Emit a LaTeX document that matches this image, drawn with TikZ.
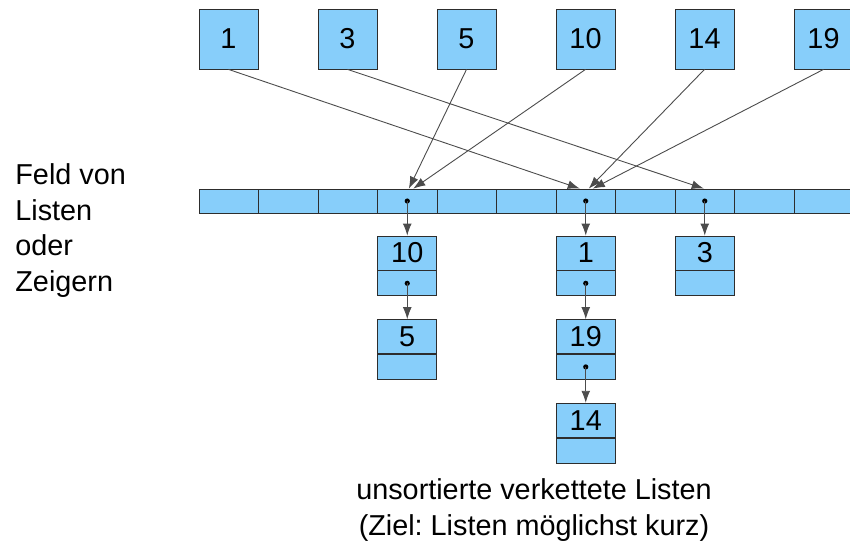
\documentclass[tikz,border=0pt]{standalone}
\usepackage{fontspec}
\setmainfont{Liberation Sans}
\usetikzlibrary{positioning,arrows.meta}

\definecolor{feldblau}{RGB}{135,206,250}
\definecolor{rand}{RGB}{45,45,45}

\tikzset{
  schrift/.style={font=\fontsize{14.4}{17.9}\selectfont},
  wert/.style={draw=rand, fill=feldblau, minimum width=29.5pt, minimum height=30pt, inner sep=0pt, schrift},
  zelle/.style={draw=rand, fill=feldblau, minimum width=29.75pt, minimum height=12pt, inner sep=0pt},
  kopf/.style={wert, minimum height=17pt},
  rest/.style={draw=rand, fill=feldblau, minimum width=29.5pt, minimum height=12.5pt, inner sep=0pt},
  zeiger/.style={-{Latex[length=6pt,width=4.4pt]}, draw=black!70, line width=0.45pt},
  punkt/.style={circle, fill=black, inner sep=0pt, minimum size=2.6pt}
}

\begin{document}
\frenchspacing
\begin{tikzpicture}[x=0.5pt, y=-0.5pt]
  \useasboundingbox (0,0) rectangle (850,542);
  \clip (0,0) rectangle (850,542);

  % Schluessel oben
  \node[wert] (t1)  at (228.5, 39) {1};
  \node[wert] (t3)  at (347.5, 39) {3};
  \node[wert] (t5)  at (466.5, 39) {5};
  \node[wert] (t10) at (585.5, 39) {10};
  \node[wert] (t14) at (704.5, 39) {14};
  \node[wert] (t19) at (823.5, 39) {19};

  % Feld
  \foreach \i in {0,...,11}
    \node[zelle] (z\i) at (228.75+59.5*\i, 201) {};

  \node[schrift, align=left, anchor=north west, inner sep=0pt] (feld) at (15, 163)
    {Feld von\\Listen\\oder\\Zeigern};

  % Listen
  \node[kopf] (l10) at (407.25, 253) {10};
  \node[rest, below=0pt of l10] (l10n) {};
  \node[kopf, below=11.5pt of l10n] (l5) {5};
  \node[rest, below=0pt of l5] (l5n) {};

  \node[kopf] (l1) at (585.75, 253) {1};
  \node[rest, below=0pt of l1] (l1n) {};
  \node[kopf, below=11.5pt of l1n] (l19) {19};
  \node[rest, below=0pt of l19] (l19n) {};
  \node[kopf, below=11.5pt of l19n] (l14) {14};
  \node[rest, below=0pt of l14] (l14n) {};

  \node[kopf] (l3) at (704.75, 253) {3};
  \node[rest, below=0pt of l3] (l3n) {};

  % Zeiger in den Zellen
  \node[punkt] (p3) at (z3.center) {};
  \node[punkt] (p6) at (z6.center) {};
  \node[punkt] (p8) at (z8.center) {};
  \node[punkt] (p10) at (l10n.center) {};
  \node[punkt] (p1) at (l1n.center) {};
  \node[punkt] (p19) at (l19n.center) {};

  \draw[zeiger] (p3.center) -- (l10.north);
  \draw[zeiger] (p6.center) -- (l1.north);
  \draw[zeiger] (p8.center) -- (l3.north);
  \draw[zeiger] (p10.center) -- (l5.north);
  \draw[zeiger] (p1.center) -- (l19.north);
  \draw[zeiger] (p19.center) -- (l14.north);

  % Hashfunktion
  \draw[zeiger] (t1.south) -- ([xshift=-3pt]z6.north);
  \draw[zeiger] (t3.south) -- ([xshift=-0.5pt]z8.north);
  \draw[zeiger] (t5.south) -- ([xshift=0.8pt]z3.north);
  \draw[zeiger] (t10.south) -- ([xshift=3pt]z3.north);
  \draw[zeiger] (t14.south) -- ([xshift=1.5pt]z6.north);
  \draw[zeiger] (t19.south) -- ([xshift=3.5pt]z6.north);

  \node[schrift, align=center, anchor=north, inner sep=0pt] (unten) at (534, 478)
    {unsortierte verkettete Listen\\(Ziel: Listen möglichst kurz)};
\end{tikzpicture}
\end{document}
